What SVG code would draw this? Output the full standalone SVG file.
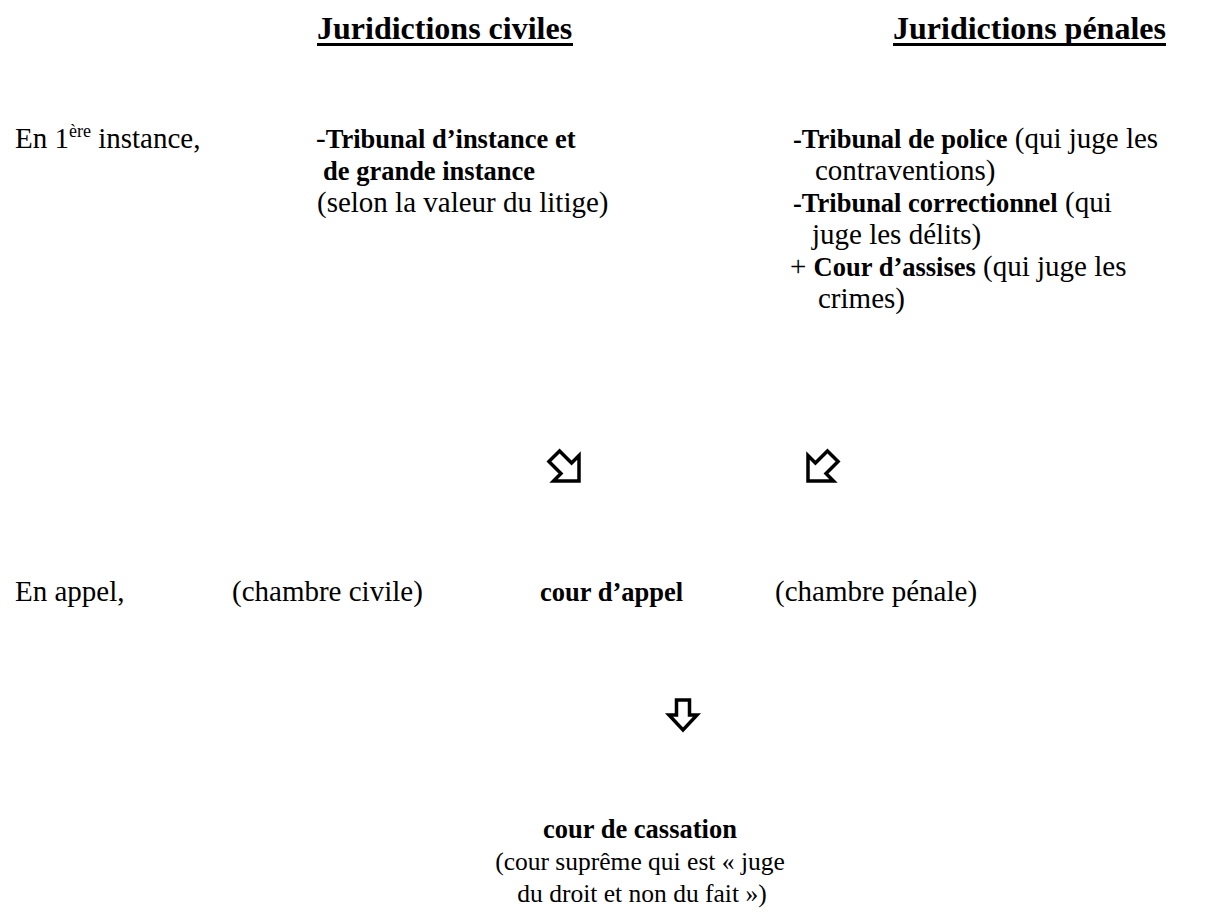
<svg xmlns="http://www.w3.org/2000/svg" width="1220" height="915" viewBox="0 0 1220 915">
<style>
text{font-family:"Liberation Serif","Times New Roman",serif;font-size:29px;fill:#000}
.b{font-weight:bold;font-size:26.5px}
.t{font-weight:bold;font-size:32px}
.s{font-size:25.5px}
.arr{fill:#fff;stroke:#000;stroke-width:3.5;stroke-linejoin:miter}
</style>
<defs>
<path id="dg" d="M-7.5,0 L7.5,0 L7.5,17 L18,17 L0,35 L-18,17 L-7.5,17 Z"/>
<path id="dn" d="M-6.5,0 L6.5,0 L6.5,15 L14,15 L0,30 L-14,15 L-6.5,15 Z"/>
</defs>
<rect width="1220" height="915" fill="#fff"/>
<g id="title-civiles">
<text class="t" x="317" y="39">Juridictions civiles</text>
<rect x="317" y="43" width="256" height="3" fill="#000"/>
</g>
<g id="title-penales">
<text class="t" x="893" y="39">Juridictions pénales</text>
<rect x="893" y="43" width="273" height="3" fill="#000"/>
</g>
<g id="label-instance">
<text x="15" y="148">En 1<tspan font-size="18" dy="-11">ère</tspan><tspan dy="11"> instance,</tspan></text>
</g>
<g id="civil-first">
<text x="316" y="148">-<tspan class="b">Tribunal d’instance et</tspan></text>
<text class="b" x="323" y="180">de grande instance</text>
<text x="317" y="212">(selon la valeur du litige)</text>
</g>
<g id="penal-first">
<text x="793" y="148"><tspan class="b">-Tribunal de police</tspan> (qui juge les</text>
<text x="815" y="180">contraventions)</text>
<text x="793" y="212"><tspan class="b">-Tribunal correctionnel</tspan> (qui</text>
<text x="812" y="244">juge les délits)</text>
<text x="790" y="276">+ <tspan class="b">Cour d’assises</tspan> (qui juge les</text>
<text x="818" y="308">crimes)</text>
</g>
<g id="label-appel">
<text x="15" y="601">En appel,</text>
</g>
<g id="appeal">
<text x="232" y="601">(chambre civile)</text>
<text class="b" x="540" y="601">cour d’appel</text>
<text x="775" y="601">(chambre pénale)</text>
</g>
<g id="cassation">
<text class="b" x="640" y="838" text-anchor="middle">cour de cassation</text>
<text class="s" x="640" y="870" text-anchor="middle">(cour suprême qui est « juge</text>
<text class="s" x="642" y="902" text-anchor="middle">du droit et non du fait »)</text>
</g>
<g id="connectors">
<use href="#dg" class="arr" transform="translate(579,481) rotate(-45) translate(0,-35)"/>
<use href="#dg" class="arr" transform="translate(808,481) rotate(45) translate(0,-35)"/>
<use href="#dn" class="arr" transform="translate(683,700)"/>
</g>
</svg>
